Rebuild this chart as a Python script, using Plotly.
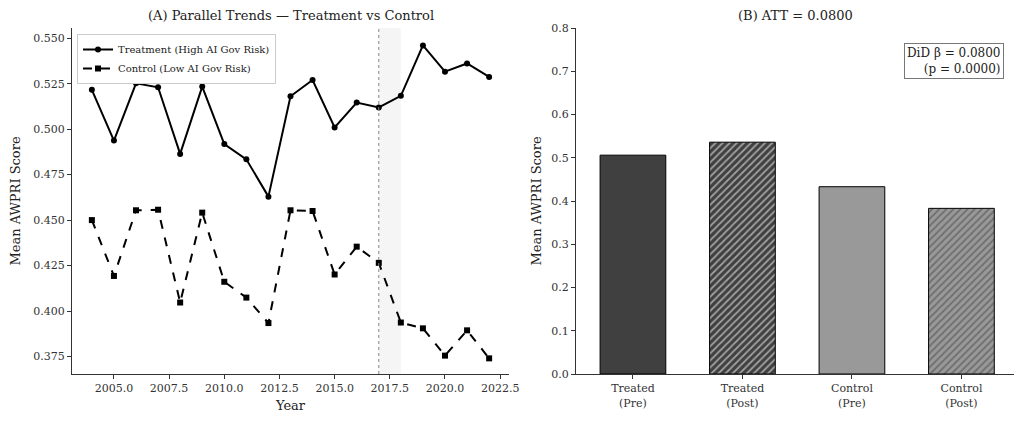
import plotly.graph_objects as go

years = list(range(2004, 2023))
treatment = [0.5216, 0.4937, 0.5252, 0.5230, 0.4864, 0.5234, 0.4918, 0.4834, 0.4629,
             0.5181, 0.5270, 0.5009, 0.5146, 0.5119, 0.5183, 0.5460, 0.5316, 0.5361, 0.5287]
control = [0.4500, 0.4193, 0.4554, 0.4557, 0.4047, 0.4541, 0.4161, 0.4074, 0.3934,
           0.4554, 0.4550, 0.4201, 0.4354, 0.4265, 0.3937, 0.3905, 0.3755, 0.3894, 0.3740]
treat_year = 2017
bar_labels = ["Treated<br>(Pre)", "Treated<br>(Post)", "Control<br>(Pre)", "Control<br>(Post)"]
bar_values = [0.506, 0.536, 0.433, 0.383]
bar_colors = ["#404040", "#404040", "#999999", "#999999"]
bar_hatch = ["", "/", "", "/"]
att = 0.0800
pval = 0.0000

FONT = "DejaVu Serif"
W, H, OFF = 1016, 416, 8


def px(x):
    return (x - OFF) / W


def py(y):
    return 1 - (y - OFF) / H


fig = go.Figure()

fig.add_trace(go.Scatter(x=years, y=treatment, mode="lines+markers", name="Treatment (High AI Gov Risk)",
                         line=dict(color="black", width=2), marker=dict(symbol="circle", size=6, color="black"),
                         xaxis="x", yaxis="y"))
fig.add_trace(go.Scatter(x=years, y=control, mode="lines+markers", name="Control (Low AI Gov Risk)",
                         line=dict(color="black", width=2, dash="dash"), marker=dict(symbol="square", size=6, color="black"),
                         xaxis="x", yaxis="y"))

fig.add_trace(go.Bar(x=[0, 1, 2, 3], y=bar_values, width=0.6,
                     marker=dict(color=bar_colors, line=dict(color="black", width=1),
                                 pattern=dict(shape=bar_hatch, fgcolor="black", size=5, solidity=0.35)),
                     showlegend=False, xaxis="x2", yaxis="y2"))

ydom = [py(374), py(28)]
axis_common = dict(showline=True, linecolor="#333333", linewidth=1, ticks="outside", ticklen=4,
                   tickcolor="#333333", showgrid=False, zeroline=False, automargin=False,
                   tickfont=dict(family=FONT, size=11, color="#333333"))

fig.update_layout(
    width=W, height=H,
    margin=dict(l=0, r=0, t=0, b=0, autoexpand=False),
    paper_bgcolor="white", plot_bgcolor="white",
    font=dict(family=FONT, color="#222222"),
    xaxis=dict(domain=[px(72), px(509)], range=[2003.1, 2022.9], tick0=2005, dtick=2.5,
               tickformat=".1f", title=dict(text="Year", font=dict(family=FONT, size=13), standoff=6),
               anchor="y", **axis_common),
    yaxis=dict(domain=ydom, range=[0.3654, 0.5556], tick0=0.375, dtick=0.025, tickformat=".3f",
               title=dict(text="Mean AWPRI Score", font=dict(family=FONT, size=13), standoff=9),
               anchor="x", **axis_common),
    xaxis2=dict(domain=[px(576), px(1014)], range=[-0.52, 3.48], tickvals=[0, 1, 2, 3],
                ticktext=bar_labels, anchor="y2", **axis_common),
    yaxis2=dict(domain=ydom, range=[0, 0.8], dtick=0.1, tickformat=".1f",
                title=dict(text="Mean AWPRI Score", font=dict(family=FONT, size=13), standoff=6),
                anchor="x2", **axis_common),
    legend=dict(x=px(77), y=py(34), xanchor="left", yanchor="top", bgcolor="white",
                bordercolor="#cccccc", borderwidth=1, font=dict(family=FONT, size=10, color="#222222"),
                tracegroupgap=0, itemwidth=30),
    shapes=[
        dict(type="rect", xref="x", yref="y domain", x0=treat_year, x1=treat_year + 1, y0=0, y1=1,
             fillcolor="rgba(200,200,200,0.18)", line=dict(width=0), layer="below"),
        dict(type="line", xref="x", yref="y domain", x0=treat_year, x1=treat_year, y0=0, y1=1,
             line=dict(color="#888888", width=1, dash="dot")),
    ],
    annotations=[
        dict(text="(A) Parallel Trends — Treatment vs Control", xref="paper", yref="paper",
             x=px((72 + 509) / 2), y=py(15), xanchor="center", yanchor="middle", showarrow=False,
             font=dict(family=FONT, size=13, color="#222222")),
        dict(text=f"(B) ATT = {att:.4f}", xref="paper", yref="paper",
             x=px((576 + 1014) / 2), y=py(15), xanchor="center", yanchor="middle", showarrow=False,
             font=dict(family=FONT, size=13, color="#222222")),
        dict(text=f"DiD β = {att:.4f}<br>(p = {pval:.4f})", xref="x2 domain", yref="y2 domain",
             x=0.978, y=0.958, xanchor="right", yanchor="top", align="right", showarrow=False,
             bgcolor="white", bordercolor="#777777", borderwidth=1, borderpad=2,
             font=dict(family=FONT, size=12, color="#222222")),
    ],
)

fig.write_html("out.html")
